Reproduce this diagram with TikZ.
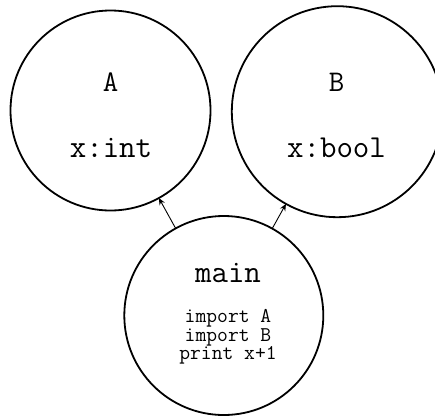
\documentclass[tikz,border=0pt]{standalone}
\usepackage{fontspec}
\usetikzlibrary{arrows.meta}
\tikzset{
  module/.style={draw, circle, line width=1.8pt, inner sep=0pt, outer sep=0pt},
  bigtt/.style={anchor=base, inner sep=0pt, font=\ttfamily\fontsize{32}{32}\selectfont},
  namett/.style={anchor=base, inner sep=0pt, font=\ttfamily\fontsize{30}{30}\selectfont},
  codett/.style={anchor=base, inner sep=0pt, font=\ttfamily\fontsize{21}{21}\selectfont},
  dep/.style={line width=0.9pt, -{Stealth[length=7pt,width=6pt,inset=2.5pt]}}
}
\begin{document}
\begin{tikzpicture}[x=1pt,y=1pt]
  \useasboundingbox (0,0) rectangle (435,-415);
  % modules
  \node[module, minimum size=200pt] (A) at (110.5,-110.5) {};
  \node[module, minimum size=211pt] (B) at (337.3,-111.7) {};
  \node[module, minimum size=199pt] (main) at (223.8,-315.5) {};
  % module texts
  \node[namett] (Aname) at (110.5,-91) {A};
  \node[bigtt] (Atype) at (111,-157) {x:int};
  \node[namett] (Bname) at (336.5,-91) {B};
  \node[bigtt] (Btype) at (336.5,-157) {x:bool};
  \node[bigtt] (mainname) at (228,-282) {main};
  \node[codett] (code1) at (228,-322.5) {import A};
  \node[codett] (code2) at (228,-341) {import B};
  \node[codett] (code3) at (228,-359.5) {print x+1};
  % dependencies
  \draw[dep] (main) -- (A);
  \draw[dep] (main) -- (B);
\end{tikzpicture}
\end{document}
